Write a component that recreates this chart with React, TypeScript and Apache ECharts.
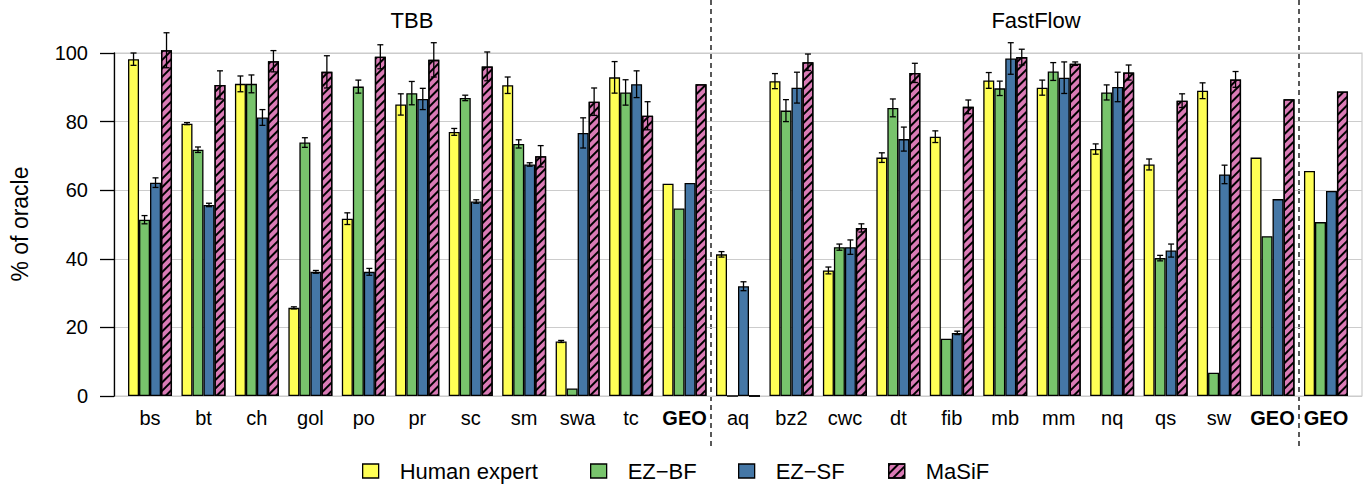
import React, { useEffect, useRef } from "react";
import * as echarts from "echarts";

const categories = ["bs", "bt", "ch", "gol", "po", "pr", "sc", "sm", "swa", "tc", "GEO", "aq", "bz2", "cwc", "dt", "fib", "mb", "mm", "nq", "qs", "sw", "GEO", "GEO"];
const boldCategories = [10, 21, 22];

const seriesNames = ["Human expert", "EZ\u2212BF", "EZ\u2212SF", "MaSiF"];

const humanExpert = [98.2, 79.4, 91.0, 25.7, 51.7, 85.0, 77.0, 90.6, 15.9, 92.9, 61.9, 41.3, 91.8, 36.6, 69.5, 75.6, 92.0, 89.9, 72.0, 67.5, 89.0, 69.5, 65.6];
const humanExpertErr = [1.8, 0.3, 2.3, 0.3, 1.7, 3.1, 1.0, 2.4, 0.3, 4.6, 0, 0.8, 2.2, 1.0, 1.4, 1.7, 2.3, 2.2, 1.5, 1.6, 2.3, 0, 0];

const ezBF = [51.4, 71.8, 91.0, 73.9, 90.2, 88.3, 86.9, 73.5, 2.2, 88.5, 54.7, 0, 83.2, 43.4, 84.0, 16.7, 89.7, 94.6, 88.5, 40.2, 6.8, 46.6, 50.7];
const ezBFErr = [1.2, 0.8, 2.6, 1.4, 1.9, 3.4, 0.8, 1.2, 0, 3.7, 0, 0, 3.2, 0.9, 2.6, 0, 2.1, 2.6, 2.2, 0.8, 0, 0, 0];

const ezSF = [62.2, 55.7, 81.2, 36.2, 36.2, 86.6, 56.7, 67.5, 76.7, 90.9, 62.1, 32.0, 89.9, 43.4, 74.9, 18.4, 98.4, 92.8, 90.1, 42.4, 64.6, 57.4, 59.8];
const ezSFErr = [1.4, 0.5, 2.3, 0.4, 1.0, 3.1, 0.5, 0.5, 4.4, 3.9, 0, 1.3, 4.5, 2.1, 3.5, 0.5, 4.6, 4.6, 4.3, 1.9, 2.7, 0, 0];

const maSiF = [100.8, 90.7, 97.6, 94.5, 98.9, 98.0, 96.1, 69.9, 85.8, 81.7, 90.9, 0, 97.3, 49.0, 94.2, 84.3, 98.8, 96.9, 94.3, 86.1, 92.3, 86.5, 88.8];
const maSiFErr = [5.1, 4.1, 3.1, 4.7, 3.5, 5.0, 4.2, 3.1, 4.0, 4.1, 0, 0, 2.4, 1.2, 2.8, 2.0, 2.3, 0.5, 2.2, 2.0, 2.3, 0, 0];

const yTicks = [0, 20, 40, 60, 80, 100];

const FONT = "'Liberation Sans', Arial, Helvetica, sans-serif";
const colors = ["#FFFF55", "#78C46C", "#4577A6", "#DA7BB6"];
const GAP = 0.177;

export default function App() {
  const ref = useRef<HTMLDivElement>(null);

  useEffect(() => {
    if (!ref.current) return;
    const chart = echarts.init(ref.current, null, { renderer: "svg" });

    const values = [humanExpert, ezBF, ezSF, maSiF];
    const errs = [humanExpertErr, ezBFErr, ezSFErr, maSiFErr];

    const barSeries = values.map((vals, k) => ({
      type: "bar",
      name: seriesNames[k],
      xAxisIndex: 1,
      yAxisIndex: 1,
      data: vals,
      barGap: "0%",
      barCategoryGap: GAP * 100 + "%",
      clip: false,
      itemStyle: {
        color: colors[k],
        borderColor: "#000",
        borderWidth: 1.3,
        ...(k === 3
          ? {
              decal: {
                symbol: "rect",
                symbolSize: 1,
                color: "#000",
                dashArrayX: [1, 0],
                dashArrayY: [1.3, 3.2],
                rotation: -Math.PI / 4,
              },
            }
          : {}),
      },
    }));

    const errSeries = values.map((vals, k) => ({
      type: "custom",
      name: "err" + k,
      xAxisIndex: 1,
      yAxisIndex: 1,
      clip: false,
      z: 5,
      data: vals
        .map((v, i) => [i, v - errs[k][i], v + errs[k][i], errs[k][i]])
        .filter((d) => d[3] > 0),
      renderItem: (params: any, api: any) => {
        const idx = api.value(0);
        const lo = api.coord([idx, api.value(1)]);
        const hi = api.coord([idx, api.value(2)]);
        const band = api.size([1, 0])[0];
        const bw = (band * (1 - GAP)) / 4;
        const x = lo[0] + (k - 1.5) * bw;
        const cap = 3;
        const st = { stroke: "#000", lineWidth: 1.3 };
        return {
          type: "group",
          children: [
            { type: "line", shape: { x1: x, y1: lo[1], x2: x, y2: hi[1] }, style: st },
            { type: "line", shape: { x1: x - cap, y1: lo[1], x2: x + cap, y2: lo[1] }, style: st },
            { type: "line", shape: { x1: x - cap, y1: hi[1], x2: x + cap, y2: hi[1] }, style: st },
          ],
        };
      },
    }));

    const legendLefts = [357, 585, 733, 883];

    chart.setOption({
      animation: false,
      textStyle: { fontFamily: FONT },
      grid: [
        { left: 114, top: 53, width: 1248, height: 343, show: true, borderColor: "#cccccc", borderWidth: 1.2 },
        { left: 123.3, top: 53, width: 1229.4, height: 343 },
      ],
      xAxis: [
        { type: "value", gridIndex: 0, min: 0, max: 1, show: false },
        {
          type: "category",
          gridIndex: 1,
          data: categories,
          axisLine: { show: false },
          axisTick: { show: false },
          axisLabel: {
            interval: 0,
            margin: 12,
            color: "#000",
            fontSize: 20,
            fontFamily: FONT,
            formatter: (v: string, i: number) => (boldCategories.includes(i) ? "{b|" + v + "}" : v),
            rich: { b: { fontWeight: "bold", fontSize: 20, fontFamily: FONT, color: "#000" } },
          },
        },
      ],
      yAxis: [
        {
          type: "value",
          gridIndex: 0,
          min: yTicks[0],
          max: yTicks[yTicks.length - 1],
          interval: 20,
          axisLine: { show: true, lineStyle: { color: "#000", width: 1.3 } },
          axisTick: { show: true, length: 14, lineStyle: { color: "#000", width: 1.3 } },
          axisLabel: { color: "#000", fontSize: 20, margin: 26, fontFamily: FONT },
          splitLine: { show: true, lineStyle: { color: "#cccccc", width: 1.2 } },
        },
        { type: "value", gridIndex: 1, min: 0, max: 100, show: false },
      ],
      legend: seriesNames.map((n, k) => ({
        data: [n],
        left: legendLefts[k],
        top: 455,
        icon: "rect",
        itemWidth: 16,
        itemHeight: 14,
        selectedMode: false,
        itemStyle: { borderColor: "#000", borderWidth: 1.3 },
        textStyle: { fontSize: 22, color: "#000", fontFamily: FONT, padding: [0, 0, 0, 16] },
      })),
      graphic: [
        { type: "text", x: 412, y: 20, style: { text: "TBB", fontSize: 22, fontFamily: FONT, fill: "#000", align: "center", verticalAlign: "middle" } },
        { type: "text", x: 1036, y: 20, style: { text: "FastFlow", fontSize: 22, fontFamily: FONT, fill: "#000", align: "center", verticalAlign: "middle" } },
        { type: "text", x: 20, y: 224, rotation: Math.PI / 2, style: { text: "% of oracle", fontSize: 23, fontFamily: FONT, fill: "#000", align: "center", verticalAlign: "middle" } },
        { type: "line", shape: { x1: 711, y1: 0, x2: 711, y2: 447 }, style: { stroke: "#000", lineWidth: 1.3, lineDash: [5, 4] } },
        { type: "line", shape: { x1: 1299, y1: 0, x2: 1299, y2: 447 }, style: { stroke: "#000", lineWidth: 1.3, lineDash: [5, 4] } },
      ],
      series: [...barSeries, ...errSeries],
    });

    return () => chart.dispose();
  }, []);

  return <div ref={ref} style={{ position: "fixed", left: 0, top: 0, width: 1371, height: 491, background: "#fff" }} />;
}
